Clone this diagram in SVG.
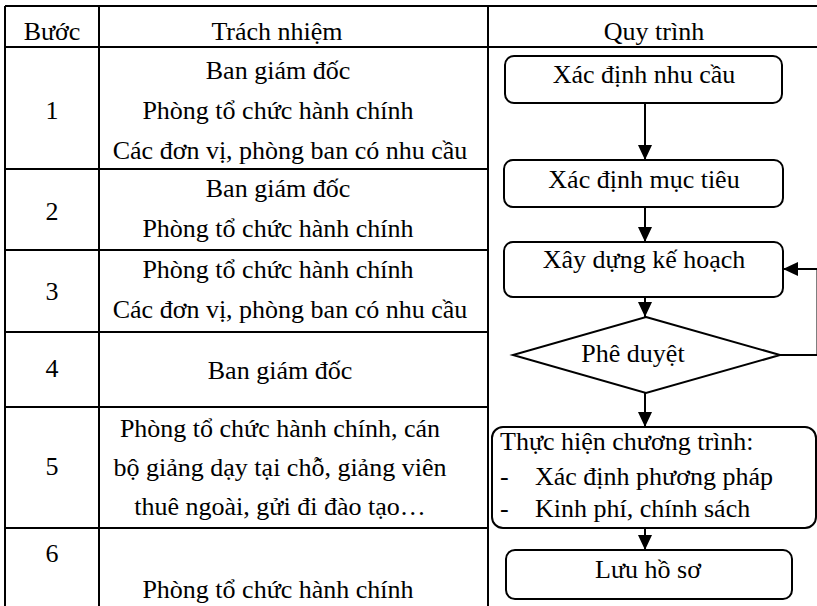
<svg xmlns="http://www.w3.org/2000/svg" width="817" height="606" viewBox="0 0 817 606">
<style>
text{font-family:"Liberation Serif","Times New Roman",serif;font-size:26px;fill:#000}
.c{text-anchor:middle}
.tl{stroke:#000;stroke-width:2;fill:none}
.box{fill:#fff;stroke:#000;stroke-width:2}
.con{stroke:#000;stroke-width:2;fill:none}
</style>
<defs>
<marker id="ah" markerUnits="userSpaceOnUse" markerWidth="16" markerHeight="16" refX="15" refY="7" orient="auto">
<path d="M0,0 L15,7 L0,14 z" fill="#000"/>
</marker>
</defs>
<rect width="817" height="606" fill="#fff"/>
<g id="table">
<path class="tl" d="M5,6 H817 M5,47 H817 M5,6 V606 M99,6 V606 M488,6 V606 M5,169 H488 M5,250 H488 M5,332 H488 M5,407 H488 M5,528 H488"/>
<text class="c" x="52" y="40">Bước</text>
<text class="c" x="277" y="40">Trách nhiệm</text>
<text class="c" x="654" y="40">Quy trình</text>
<text class="c" x="52" y="119">1</text>
<text class="c" x="278" y="79">Ban giám đốc</text>
<text class="c" x="278" y="119">Phòng tổ chức hành chính</text>
<text class="c" x="290" y="159">Các đơn vị, phòng ban có nhu cầu</text>
<text class="c" x="52" y="220">2</text>
<text class="c" x="278" y="197">Ban giám đốc</text>
<text class="c" x="278" y="237">Phòng tổ chức hành chính</text>
<text class="c" x="52" y="300">3</text>
<text class="c" x="278" y="278">Phòng tổ chức hành chính</text>
<text class="c" x="290" y="318">Các đơn vị, phòng ban có nhu cầu</text>
<text class="c" x="52" y="377">4</text>
<text class="c" x="280" y="379">Ban giám đốc</text>
<text class="c" x="52" y="475">5</text>
<text class="c" x="280" y="437">Phòng tổ chức hành chính, cán</text>
<text class="c" x="280" y="476">bộ giảng dạy tại chỗ, giảng viên</text>
<text class="c" x="280" y="515">thuê ngoài, gửi đi đào tạo…</text>
<text class="c" x="52" y="562">6</text>
<text class="c" x="278" y="598">Phòng tổ chức hành chính</text>
</g>
<g id="connectors">
<path class="con" marker-end="url(#ah)" d="M645,103 V160"/>
<path class="con" marker-end="url(#ah)" d="M645,207 V242"/>
<path class="con" marker-end="url(#ah)" d="M645,297 V317"/>
<path class="con" marker-end="url(#ah)" d="M645,393 V427"/>
<path class="con" marker-end="url(#ah)" d="M645,528 V550"/>
<path class="con" marker-end="url(#ah)" d="M780,355 H817.5 V269 H783"/>
</g>
<g id="n1">
<rect class="box" x="505" y="56" width="277" height="47" rx="9"/>
<text class="c" x="644" y="83">Xác định nhu cầu</text>
</g>
<g id="n2">
<rect class="box" x="504" y="160" width="279" height="47" rx="9"/>
<text class="c" x="644" y="188">Xác định mục tiêu</text>
</g>
<g id="n3">
<rect class="box" x="504" y="242" width="279" height="55" rx="9"/>
<text class="c" x="644" y="268">Xây dựng kế hoạch</text>
</g>
<g id="n4">
<polygon class="box" points="646,317 780,355 646,393 513,355"/>
<text class="c" x="633" y="362">Phê duyệt</text>
</g>
<g id="n5">
<rect class="box" x="492" y="427" width="324" height="101" rx="11"/>
<text x="500" y="450">Thực hiện chương trình:</text>
<text x="500" y="485">-</text>
<text x="535" y="485">Xác định phương pháp</text>
<text x="500" y="517">-</text>
<text x="535" y="517">Kinh phí, chính sách</text>
</g>
<g id="n6">
<rect class="box" x="506" y="550" width="286" height="49" rx="9"/>
<text class="c" x="648" y="578">Lưu hồ sơ</text>
</g>
</svg>
